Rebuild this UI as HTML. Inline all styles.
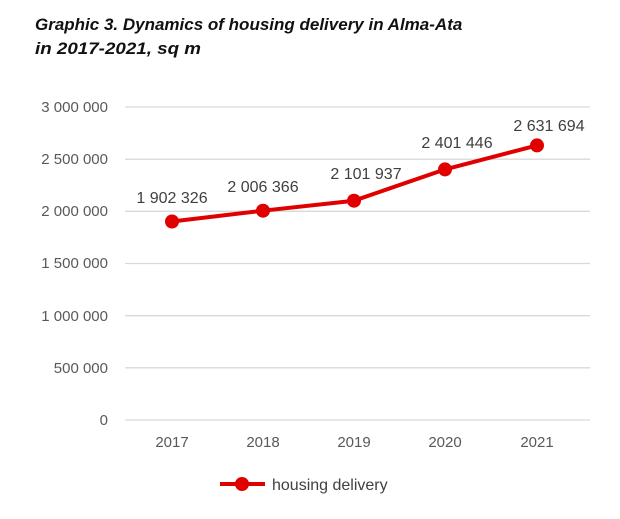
<!DOCTYPE html>
<html><head><meta charset="utf-8"><style>
body{margin:0;background:#fff;width:620px;height:514px;overflow:hidden}
</style></head><body>
<svg width="620" height="514" xmlns="http://www.w3.org/2000/svg" font-family="Liberation Sans, sans-serif">
<text x="35" y="30" font-size="17" font-style="italic" font-weight="bold" fill="#111">Graphic 3. Dynamics of housing delivery in Alma-Ata</text>
<text x="35" y="54" font-size="17" font-style="italic" font-weight="bold" fill="#111" textLength="166" lengthAdjust="spacingAndGlyphs">in 2017-2021, sq m</text>
<g stroke="#d9d9d9" stroke-width="1.3">
<line x1="125" x2="590" y1="107" y2="107"/><line x1="125" x2="590" y1="159.2" y2="159.2"/>
<line x1="125" x2="590" y1="211.3" y2="211.3"/><line x1="125" x2="590" y1="263.5" y2="263.5"/>
<line x1="125" x2="590" y1="315.7" y2="315.7"/><line x1="125" x2="590" y1="367.8" y2="367.8"/>
<line x1="125" x2="590" y1="420" y2="420"/>
</g>
<g font-size="15" fill="#595959" text-anchor="end">
<text x="108" y="112">3 000 000</text><text x="108" y="164">2 500 000</text>
<text x="108" y="216">2 000 000</text><text x="108" y="268">1 500 000</text>
<text x="108" y="321">1 000 000</text><text x="108" y="373">500 000</text>
<text x="108" y="425">0</text>
</g>
<g font-size="15" fill="#595959" text-anchor="middle">
<text x="172" y="447">2017</text><text x="263" y="447">2018</text><text x="354" y="447">2019</text>
<text x="445" y="447">2020</text><text x="537" y="447">2021</text>
</g>
<polyline points="172,221.5 263,210.7 354,200.7 445,169.4 537,145.4" fill="none" stroke="#e00000" stroke-width="4" stroke-linejoin="round"/>
<g fill="#e00000">
<circle cx="172" cy="221.5" r="7"/><circle cx="263" cy="210.7" r="7"/><circle cx="354" cy="200.7" r="7"/>
<circle cx="445" cy="169.4" r="7"/><circle cx="537" cy="145.4" r="7"/>
</g>
<g font-size="16" fill="#404040" text-anchor="middle">
<text x="172" y="203">1 902 326</text><text x="263" y="192">2 006 366</text><text x="366" y="179">2 101 937</text>
<text x="457" y="148">2 401 446</text><text x="549" y="131">2 631 694</text>
</g>
<line x1="220" x2="265" y1="484" y2="484" stroke="#e00000" stroke-width="4"/>
<circle cx="242" cy="484" r="7" fill="#e00000"/>
<text x="272" y="490" font-size="16" fill="#404040">housing delivery</text>
</svg>
</body></html>
